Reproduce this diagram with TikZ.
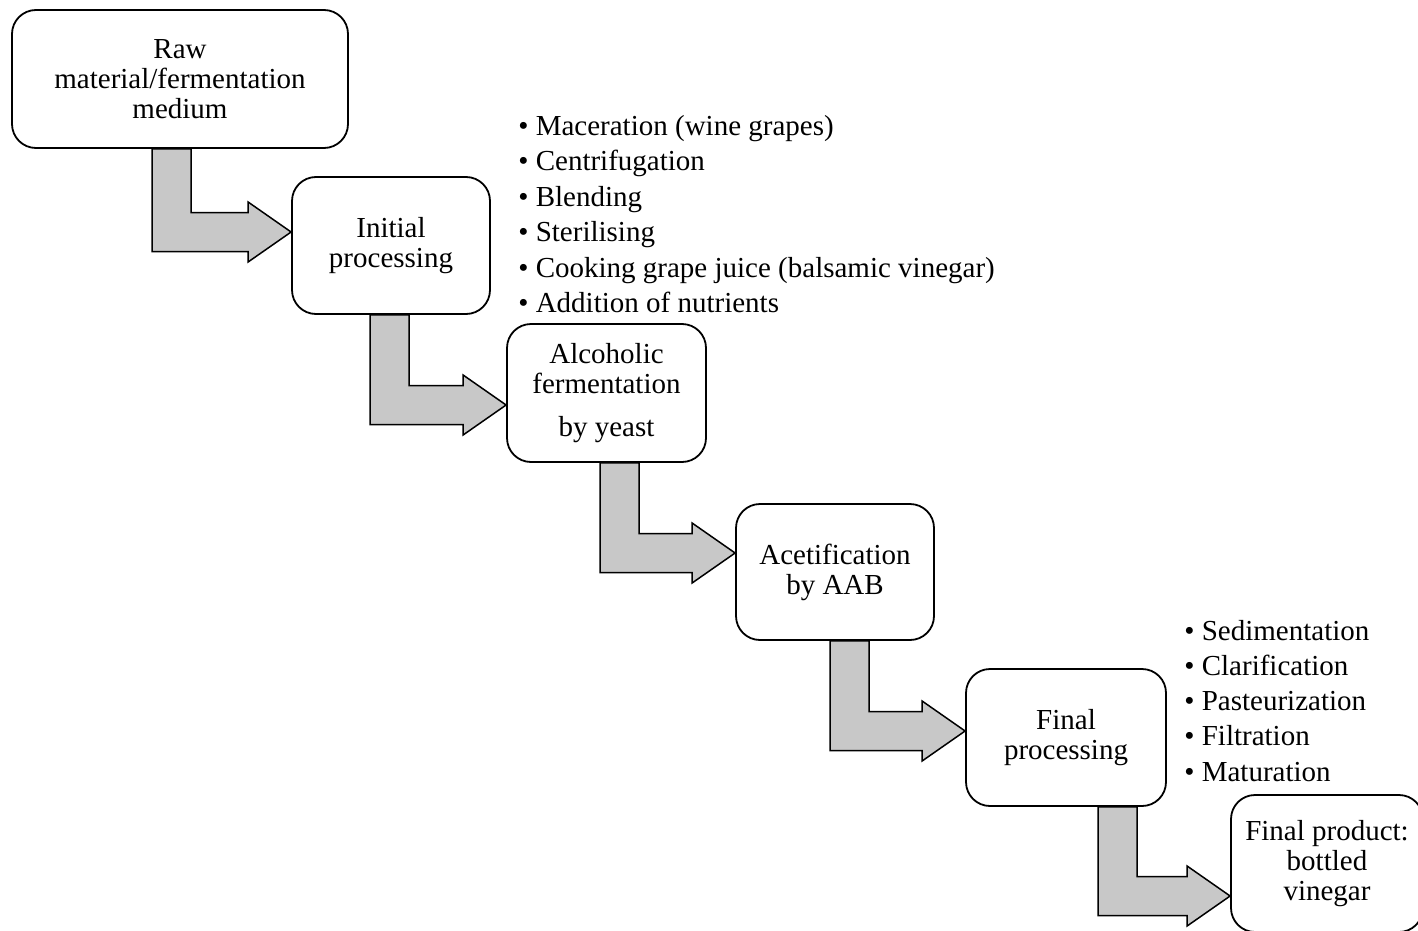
\documentclass[tikz,border=0pt]{standalone}
\usepackage{fontspec}
\setmainfont{Liberation Serif}
\usetikzlibrary{calc}

\definecolor{arrowgray}{RGB}{200,200,200}

\tikzset{
  stagebox/.style={draw, rounded corners=12pt, line width=0.9pt, align=center,
    font=\fontsize{14.5}{15}\selectfont, inner sep=2pt},
  flowarrow/.style={draw, fill=arrowgray, line width=0.75pt, line join=miter},
  itemtext/.style={anchor=base west, inner sep=0pt, font=\fontsize{14.5}{17.75}\selectfont}
}

% elbow arrow: #1 from, #2 to, #3 stem x, #4 tip y
\newcommand{\stagearrow}[4]{%
  \coordinate (sx) at (#3,0);
  \coordinate (ty) at (0,#4);
  \coordinate (stemtop) at (sx |- #1.south);
  \coordinate (tip) at (#2.west |- ty);
  \draw[flowarrow] (stemtop) -- ++(39,0) |- ($(tip)+(-43,-19.5)$) -- ++(0,-10.5)
    -- (tip) -- ++(-43,30) -- ++(0,-10.5) -- ($(stemtop |- tip)+(0,19.5)$) -- cycle;
}

\begin{document}
\begin{tikzpicture}[x=0.5pt, y=-0.5pt]
  \useasboundingbox (0,0) rectangle (1418,931);

  \node[stagebox, minimum width=168pt, minimum height=69pt] (raw) at (180,79)
    {Raw\\material/fermentation\\medium};
  \node[stagebox, minimum width=99pt, minimum height=68.5pt] (initial) at (391,245.5)
    {Initial\\processing};
  \node[stagebox, minimum width=99.5pt, minimum height=69pt] (alcohol) at (606.5,393)
    {Alcoholic\\fermentation\\[6.5pt]by yeast};
  \node[stagebox, minimum width=99pt, minimum height=68pt] (acetif) at (835,572)
    {Acetification\\by AAB};
  \node[stagebox, minimum width=100pt, minimum height=68.5pt] (final) at (1066,737.5)
    {Final\\processing};
  \node[stagebox, minimum width=96pt, minimum height=68.5pt] (product) at (1327,863.5)
    {Final product:\\bottled\\vinegar};

  \stagearrow{raw}{initial}{152}{232}
  \stagearrow{initial}{alcohol}{370}{405}
  \stagearrow{alcohol}{acetif}{600}{553}
  \stagearrow{acetif}{final}{830}{731}
  \stagearrow{final}{product}{1098}{896}

  % steps before fermentation
  \foreach \t [count=\i from 0] in {Maceration (wine grapes), Centrifugation, Blending,
      Sterilising, Cooking grape juice (balsamic vinegar), Addition of nutrients}
    \node[itemtext] (pre\i) at (518,135+35.5*\i) {•\ \t};

  % steps after acetification
  \foreach \t [count=\i from 0] in {Sedimentation, Clarification, Pasteurization,
      Filtration, Maturation}
    \node[itemtext] (post\i) at (1184,640+35.3*\i) {•\ \t};
\end{tikzpicture}
\end{document}
